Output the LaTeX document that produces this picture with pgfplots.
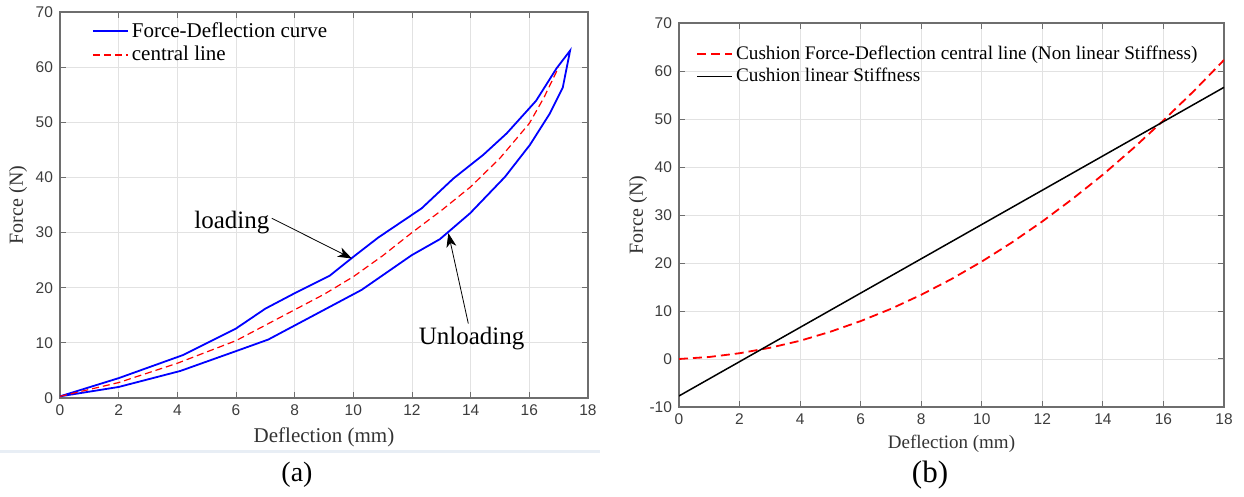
\documentclass[border=0pt]{standalone}
\usepackage{fontspec}
\setmainfont{Liberation Serif}
\setsansfont{Liberation Sans}
\usepackage{pgfplots}
\pgfplotsset{compat=1.18}
\usetikzlibrary{arrows.meta}

\definecolor{framegray}{RGB}{110,110,110}
\definecolor{tickgray}{RGB}{60,60,60}
\definecolor{gridgray}{RGB}{226,226,226}
\definecolor{sepblue}{RGB}{232,238,245}

\pgfplotsset{
  matlab/.style={
    scale only axis,
    xmin=0, xmax=18, xtick={0,2,...,18},
    grid=major,
    major grid style={gridgray, line width=0.4pt},
    axis line style={framegray, line width=0.6pt},
    tick style={framegray, line width=0.5pt},
    tick align=inside,
    major tick length=3pt,
    ticklabel style={font=\sffamily\fontsize{7.75}{9}\selectfont, text=tickgray},
    /pgf/number format/assume math mode=true,
    label style={text=black!80},
    legend cell align=left,
    legend image code/.code={\draw[##1] (0pt,0pt) -- (17.5pt,0pt);},
    legend style={draw=none, fill=none, inner sep=0pt, nodes={inner sep=1.5pt}},
  }
}

\begin{document}
\begin{tikzpicture}
\path[use as bounding box] (0,0) rectangle (622pt,-248.5pt);

% (a) loading / unloading loop
\begin{axis}[matlab,
  at={(30pt,-199pt)}, anchor=south west,
  width=264pt, height=193pt,
  ymin=0, ymax=70, ytick={0,10,...,70},
  xlabel={Deflection (mm)}, ylabel={Force (N)},
  xlabel style={font=\fontsize{10.5}{12}\selectfont, at={(axis description cs:0.5,-0.101)}, anchor=center},
  ylabel style={font=\fontsize{10}{12}\selectfont, at={(axis description cs:-0.0795,0.5)}, anchor=center},
  legend style={at={(0.06,0.982)}, anchor=north west, font=\fontsize{10.5}{12}\selectfont},
]
\addplot[blue, line width=0.9pt] coordinates {
  (0,0.3) (2,3.6) (4.2,7.8) (6,12.6) (7,16.2) (8,19.0) (9.2,22.2) (10,25.6)
  (10.85,29.1) (12.33,34.4) (13.41,39.8) (14.43,44.1) (15.23,48.0) (16.23,53.9)
  (16.93,59.8) (17.39,63.0)
  (17.14,56.3) (16.7,51.6) (16.02,45.9) (15.17,40.1) (13.98,33.5) (12.95,28.8)
  (11.99,25.9) (10.28,19.6) (7.1,10.6) (6,8.5) (4.1,4.9) (2,2.0) (0,0.3)
};
\addlegendentry{Force-Deflection curve}
\addplot[red, line width=0.6pt, dash pattern=on 3.5pt off 2pt] coordinates {
  (0,0.3) (2,2.8) (4,6.3) (6,10.4) (7,13.2) (8,16.0) (9,18.8) (10,22.0)
  (11,25.8) (12,30.0) (13,34.0) (14,38.3) (15,43.5) (16,49.8) (16.5,54.5) (17,60.0)
};
\addlegendentry{central line}
\node[font=\fontsize{12.5}{14}\selectfont] at (axis cs:5.86,31.9) {loading};
\draw[black, line width=0.4pt, -{Stealth[length=7pt, width=5pt, inset=2pt]}]
  (axis cs:7.22,32.6) -- (axis cs:9.95,25.3);
\node[font=\fontsize{12.5}{14}\selectfont] at (axis cs:14.03,10.8) {Unloading};
\draw[black, line width=0.4pt, -{Stealth[length=7pt, width=5pt, inset=2pt]}]
  (axis cs:13.92,13.5) -- (axis cs:13.24,29.9);
\end{axis}

% (b) nonlinear vs linear stiffness
\begin{axis}[matlab,
  at={(339.5pt,-203.5pt)}, anchor=south west,
  width=272.5pt, height=192pt,
  ymin=-10, ymax=70, ytick={-10,0,...,70},
  yticklabels={-10,0,10,20,30,40,50,60,70},
  xlabel={Deflection (mm)}, ylabel={Force (N)},
  xlabel style={font=\fontsize{9.5}{12}\selectfont, at={(axis description cs:0.5,-0.0964)}, anchor=center},
  ylabel style={font=\fontsize{10}{12}\selectfont, at={(axis description cs:-0.0752,0.5)}, anchor=center},
  legend style={at={(0.031,0.95)}, anchor=north west, font=\fontsize{9.6}{11}\selectfont},
]
\addplot[red, line width=0.9pt, dash pattern=on 4.5pt off 2.5pt] coordinates {
  (0,0) (1,0.42) (2,1.2) (3,2.33) (4,3.8) (5,5.68) (6,7.9) (7,10.45) (8,13.38)
  (9,16.66) (10,20.3) (11,24.3) (12,28.66) (13,33.37) (14,38.4) (15,43.88)
  (16,49.7) (17,55.81) (18,62.3)
};
\addlegendentry{Cushion Force-Deflection central line (Non linear Stiffness)}
\addplot[black, line width=0.75pt] coordinates {(0,-7.7) (18,56.6)};
\addlegendentry{Cushion linear Stiffness}
\end{axis}

\draw[sepblue, line width=1.5pt] (0,-226pt) -- (300pt,-226pt);
\node[font=\fontsize{14}{16}\selectfont] at (148.5pt,-237.5pt) {(a)};
\node[font=\fontsize{15.5}{18}\selectfont] at (465pt,-237.5pt) {(b)};
\end{tikzpicture}
\end{document}
